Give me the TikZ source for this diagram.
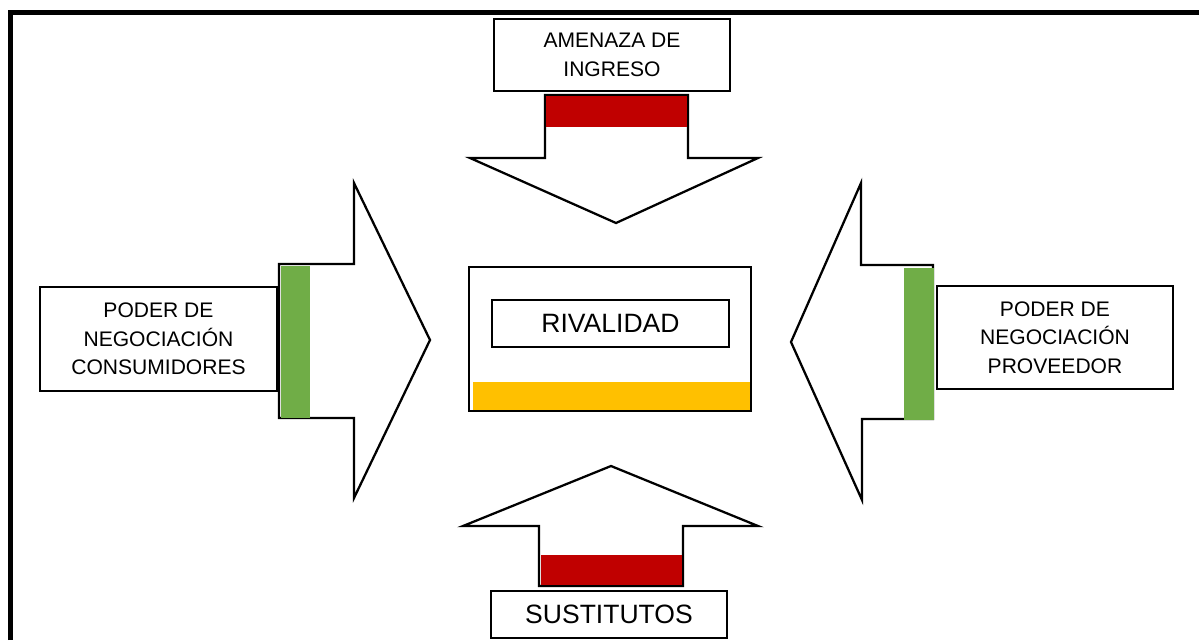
\documentclass[tikz,border=0pt]{standalone}
\usepackage{fontspec}
\setmainfont{Liberation Sans}
\definecolor{barred}{HTML}{C00000}
\definecolor{bargreen}{HTML}{70AD47}
\definecolor{baryellow}{HTML}{FFC000}
\begin{document}
\begin{tikzpicture}[x=0.75pt,y=-0.75pt,
  lbox/.style={draw=black,line width=1.2pt,fill=white,align=center,inner sep=0pt,
    font=\fontsize{15.8pt}{21.5pt}\selectfont},
  bigbox/.style={lbox,font=\fontsize{19.9pt}{23pt}\selectfont},
  arrowshape/.style={draw=black,line width=1.7pt,fill=white,line join=miter},
  frame/.style={line width=3.75pt,line join=miter}]
\useasboundingbox (0,0) rectangle (1199,640);
% frame
\draw[frame] (10.5,640) -- (10.5,12.5) -- (1199,12.5);
% top arrow (down)
\draw[arrowshape] (545,95) -- (688,95) -- (688,158) -- (758,158) -- (616,223) -- (470,158) -- (545,158) -- cycle;
\fill[barred] (546,96) rectangle (687,127);
% left arrow (right)
\draw[arrowshape] (279,264) -- (354,264) -- (354,183) -- (430,340) -- (354,498) -- (354,418) -- (279,418) -- cycle;
\fill[bargreen] (281,266) rectangle (310,418);
% right arrow (left)
\draw[arrowshape] (933,265) -- (861,265) -- (861,183) -- (791,342) -- (862,500) -- (862,419) -- (933,419) -- cycle;
\fill[bargreen] (904,268) rectangle (934,420);
% bottom arrow (up)
\draw[arrowshape] (539,586) -- (683,586) -- (683,526) -- (758,526) -- (611,466) -- (463,526) -- (539,526) -- cycle;
\fill[barred] (541,555) rectangle (682,585);
% centre
\node[draw=black,line width=1.5pt,fill=white,minimum width={282*0.75pt},minimum height={144*0.75pt},inner sep=0pt] (rivalouter) at (610,339) {};
\fill[baryellow] (473,382) rectangle (750,410);
\node[bigbox,minimum width={237*0.75pt},minimum height={47*0.75pt}] (rival) at (610.5,323.5) {RIVALIDAD};
% boxes
\node[lbox,minimum width={236*0.75pt},minimum height={72*0.75pt}] (amenaza) at (612,55) {AMENAZA DE\\INGRESO};
\node[lbox,minimum width={237*0.75pt},minimum height={104*0.75pt}] (consum) at (158.5,339) {PODER DE\\NEGOCIACIÓN\\CONSUMIDORES};
\node[lbox,minimum width={236*0.75pt},minimum height={103*0.75pt}] (prov) at (1055,337.5) {PODER DE\\NEGOCIACIÓN\\PROVEEDOR};
\node[bigbox,minimum width={236*0.75pt},minimum height={47*0.75pt}] (sust) at (609,614.5) {SUSTITUTOS};
\end{tikzpicture}
\end{document}
